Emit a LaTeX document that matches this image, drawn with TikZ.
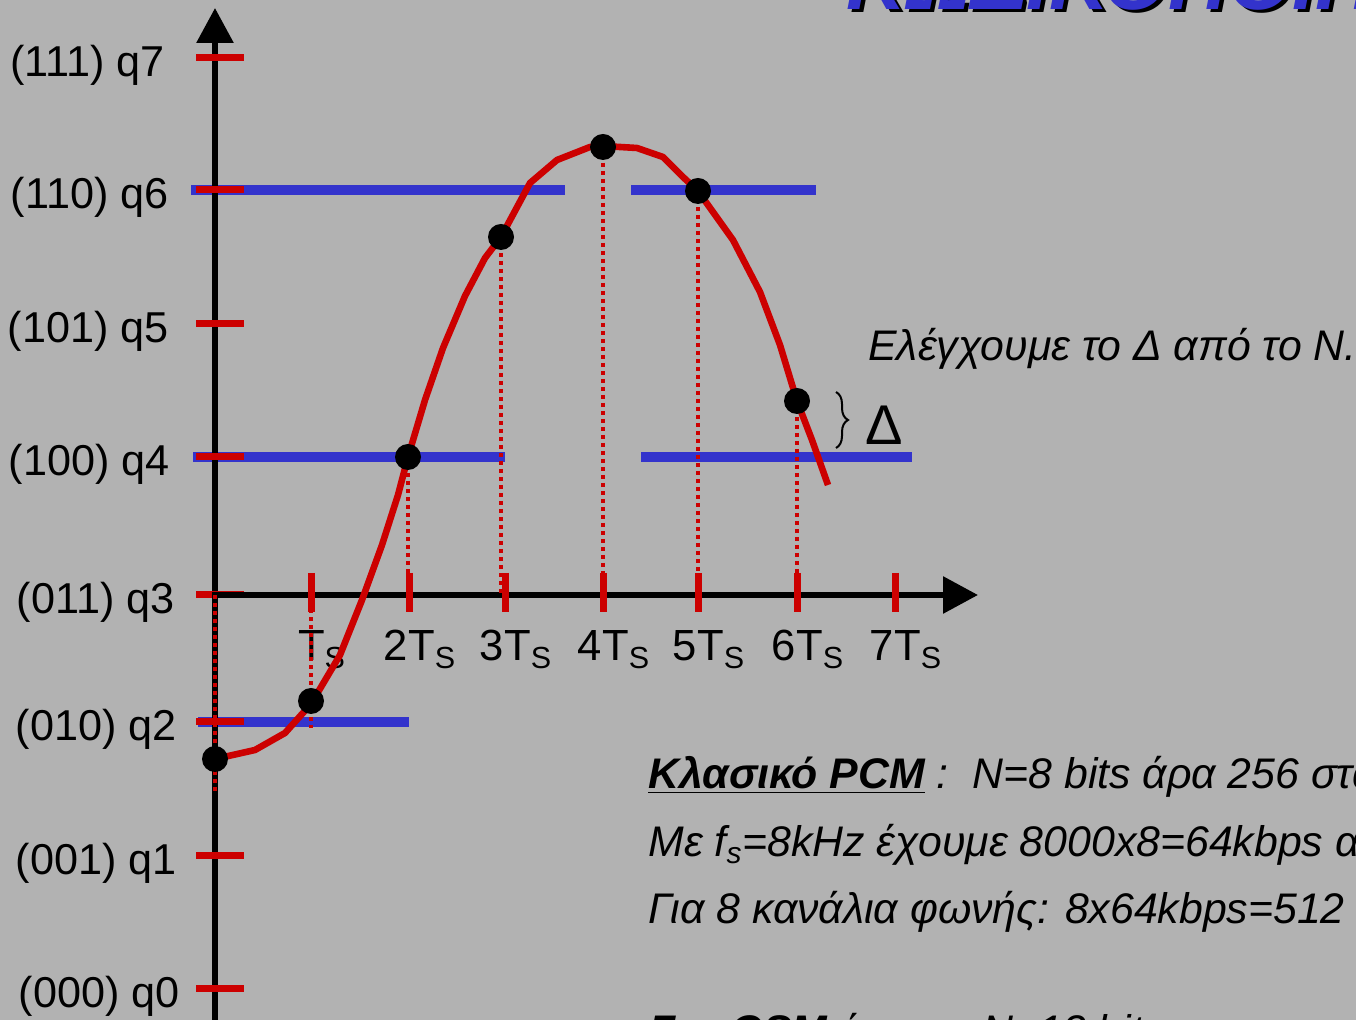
\documentclass[tikz,border=0pt]{standalone}
\usepackage{fontspec}
\setmainfont{Liberation Sans}
\usetikzlibrary{arrows.meta,decorations.pathreplacing}
\definecolor{bggray}{RGB}{178,178,178}
\definecolor{lvlblue}{RGB}{51,51,204}
\definecolor{pcmred}{RGB}{204,0,0}

\begin{document}
\begin{tikzpicture}[
  x=0.5pt, y=-0.5pt,
  axis/.style={line width=3pt, -{Triangle[length=17.5pt,width=18pt]}},
  level/.style={lvlblue, line width=5pt},
  qtick/.style={pcmred, line width=3.5pt},
  probe/.style={pcmred, line width=1.8pt, dash pattern=on 1.8pt off 2.2pt},
  signal/.style={pcmred, line width=3.3pt, line join=round},
  sample/.style={circle, fill=black, inner sep=0pt, minimum size=13pt},
  qlbl/.style={font=\fontsize{21.6}{26}\selectfont, anchor=east, inner sep=0pt},
  tlbl/.style={font=\fontsize{21.8}{26}\selectfont, anchor=base, inner sep=0pt},
  note/.style={font=\fontsize{21.4}{25}\selectfont\itshape, anchor=base west, inner sep=0pt},
  ttl/.style={font=\fontsize{41.5}{48}\selectfont\bfseries\itshape, anchor=base west, inner sep=0pt},
]
\clip (0,0) rectangle (1356,1020);
\fill[bggray] (0,0) rectangle (1356,1020);

% ---- title (cut at the top) ----
\node[ttl, text=black] (ttlsh) at (850,13) {ΚΩΔΙΚΟΠΟΙΗΣΗ};
\node[ttl, text=lvlblue] (ttl) at (846,10) {ΚΩΔΙΚΟΠΟΙΗΣΗ};

% ---- quantisation levels ----
\draw[level] (191,190) -- (565,190);
\draw[level] (631,190) -- (816,190);
\draw[level] (193,457) -- (505,457);
\draw[level] (641,457) -- (912,457);
\draw[level] (198,722) -- (409,722);

% ---- axes and ticks ----
\coordinate (yb) at (215,1020);
\coordinate (yt) at (215,8);
\coordinate (xo) at (212,595);
\coordinate (xe) at (978,595);
\draw[axis] (yb) -- (yt);
\foreach \i/\code/\yy/\xr in {0/000/989/180,1/001/856/177,2/010/722/177,3/011/595/175,
                              4/100/457/170,5/101/324/169,6/110/190/169,7/111/58/165}{
  \draw[qtick] (196,\yy) -- (244,\yy);
  \node[qlbl] (q\i) at (\xr,\yy+7) {(\code) q\i};
}
\draw[axis] (xo) -- (xe);
\foreach \k/\xx in {1/311,2/409,3/505,4/603,5/698,6/797,7/895}{
  \draw[qtick] (\xx,573) -- (\xx,612);
  \node[tlbl] (t\k) at (\xx+11,661) {\ifnum\k=1 \else\k\fi T\textsubscript{S}};
}

% ---- samples ----
\coordinate (s0) at (215,759);
\coordinate (s1) at (311,701);
\coordinate (s2) at (408,457);
\coordinate (s3) at (501,237);
\coordinate (s4) at (603,147);
\coordinate (s5) at (698,191);
\coordinate (s6) at (797,401);
\draw[probe] (s0 |- xo) -- ++(0,197);
\draw[probe] (s1) -- ++(0,-89);
\draw[probe] (s1) -- ++(0,27);
\foreach \n in {2,...,6}{
  \draw[probe] (s\n) -- (s\n |- xo);
}

% ---- analog signal ----
\draw[signal] plot coordinates {(215,759) (255,750) (285,733) (311,704) (340,655) (362,600)
  (382,545) (398,495) (408,457) (425,400) (443,348) (465,296) (485,258) (501,237)
  (530,183) (557,160) (590,147) (603,146) (637,148) (663,157) (683,177) (698,191)
  (733,240) (760,292) (780,345) (797,401) (812,440) (828,485)};
\foreach \n in {0,...,6}{
  \node[sample] (dot\n) at (s\n) {};
}

% ---- step size ----
\coordinate (b1) at (836,392);
\coordinate (b2) at (836,448);
\draw[line width=1pt, decorate, decoration={brace, amplitude=6pt}] (b1) -- (b2);
\node[font=\fontsize{28}{32}\selectfont, anchor=west, inner sep=0pt] (dlt) at (865,425) {Δ};
\node[note] (ctl) at (868,361) {Ελέγχουμε το Δ από το Ν.};

% ---- text block ----
\node[note] (pcm1) at (648,789) {\textbf{\underline{Κλασικό PCM}} :\ \ N=8 bits άρα 256 στάθμες};
\node[note] (pcm2) at (648,857) {Με f\textsubscript{s}=8kHz έχουμε 8000x8=64kbps ανά κανάλι};
\node[note] (pcm3) at (648,924) {Για 8 κανάλια φωνής: 8x64kbps=512 kbps};
\node[note] (gsm) at (650,1046) {\textbf{\underline{Στο GSM}} έχουμε N=13 bits};
\end{tikzpicture}
\end{document}
